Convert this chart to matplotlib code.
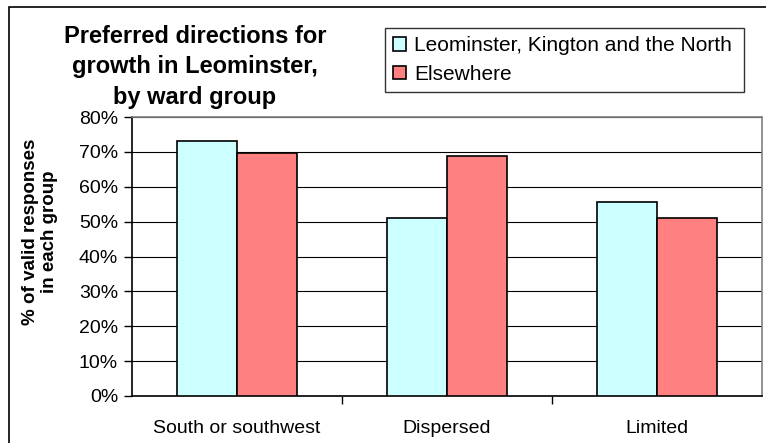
import matplotlib.pyplot as plt
from matplotlib.patches import Rectangle
from matplotlib.ticker import MultipleLocator, FuncFormatter

plt.rcParams['font.family'] = ['Liberation Sans', 'DejaVu Sans']

categories = ["South or southwest", "Dispersed", "Limited"]
leominster = [73.2, 51.0, 55.6]
elsewhere = [69.8, 68.9, 51.0]
series_names = ["Leominster, Kington and the North", "Elsewhere"]
colors = ["#CCFFFF", "#FF8080"]

W, H = 766, 443
fig = plt.figure(figsize=(W / 100, H / 100), dpi=100)

# plot area, in pixels of the reference
left, right, top, bottom = 132, 762, 117, 396
ax = fig.add_axes([left / W, 1 - bottom / H, (right - left) / W, (bottom - top) / H])

bw = 1 / 3.5  # excel gap width 150%
x = list(range(len(categories)))
b1 = ax.bar([i - bw / 2 for i in x], leominster, width=bw, color=colors[0],
            edgecolor="black", linewidth=1.2, zorder=3, label=series_names[0])
b2 = ax.bar([i + bw / 2 for i in x], elsewhere, width=bw, color=colors[1],
            edgecolor="black", linewidth=1.2, zorder=3, label=series_names[1])

ax.set_xlim(-0.5, len(categories) - 0.5)
ax.set_ylim(0, 80)
ax.yaxis.set_major_locator(MultipleLocator(10))
ax.yaxis.set_major_formatter(FuncFormatter(lambda v, p: f"{v:.0f}%"))
ax.grid(axis="y", color="black", linewidth=0.8, zorder=0)

# category ticks sit on the boundaries, labels in the middle
ax.set_xticks([i + 0.5 for i in x[:-1]])
ax.set_xticklabels([])
ax.set_xticks(x, minor=True)
ax.set_xticklabels(categories, minor=True, fontsize=14)
ax.tick_params(axis="x", which="minor", length=0, pad=17)
ax.tick_params(axis="x", which="major", direction="out", length=6, width=1, color="black")
ax.tick_params(axis="y", direction="out", length=6, width=1, labelsize=14, pad=4)

for s in ["top", "right"]:
    ax.spines[s].set_color("#808080")
    ax.spines[s].set_linewidth(1.2)
for s in ["left", "bottom"]:
    ax.spines[s].set_color("black")
    ax.spines[s].set_linewidth(1.2)

fig.text(40 / W, 1 - 232 / H, "% of valid responses\nin each group", rotation=90,
         ha="center", va="center", fontsize=13.5, fontweight="bold", linespacing=1.15)

fig.text(195 / W, 1 - 67 / H, "Preferred directions for\ngrowth in Leominster,\nby ward group",
         ha="center", va="center", fontsize=17, fontweight="bold", linespacing=1.4)

leg = fig.legend(handles=[b1, b2], loc="upper left",
                 bbox_to_anchor=(385 / W, 1 - 104 / H, (744 - 385) / W, (104 - 28) / H),
                 mode="expand", borderaxespad=0, fontsize=15, frameon=True, fancybox=False,
                 handlelength=0.6, handleheight=0.6, handletextpad=0.4, labelspacing=0.45,
                 borderpad=0.4)
leg.get_frame().set_edgecolor("black")
leg.get_frame().set_linewidth(1.0)

# chart border (runs off the right and bottom of the picture)
fig.add_artist(Rectangle((9 / W, -0.1), 1.2, 1 - 7 / H + 0.1, transform=fig.transFigure,
                         fill=False, edgecolor="black", linewidth=1.2, clip_on=False))

fig.savefig("out.png", dpi=100)
